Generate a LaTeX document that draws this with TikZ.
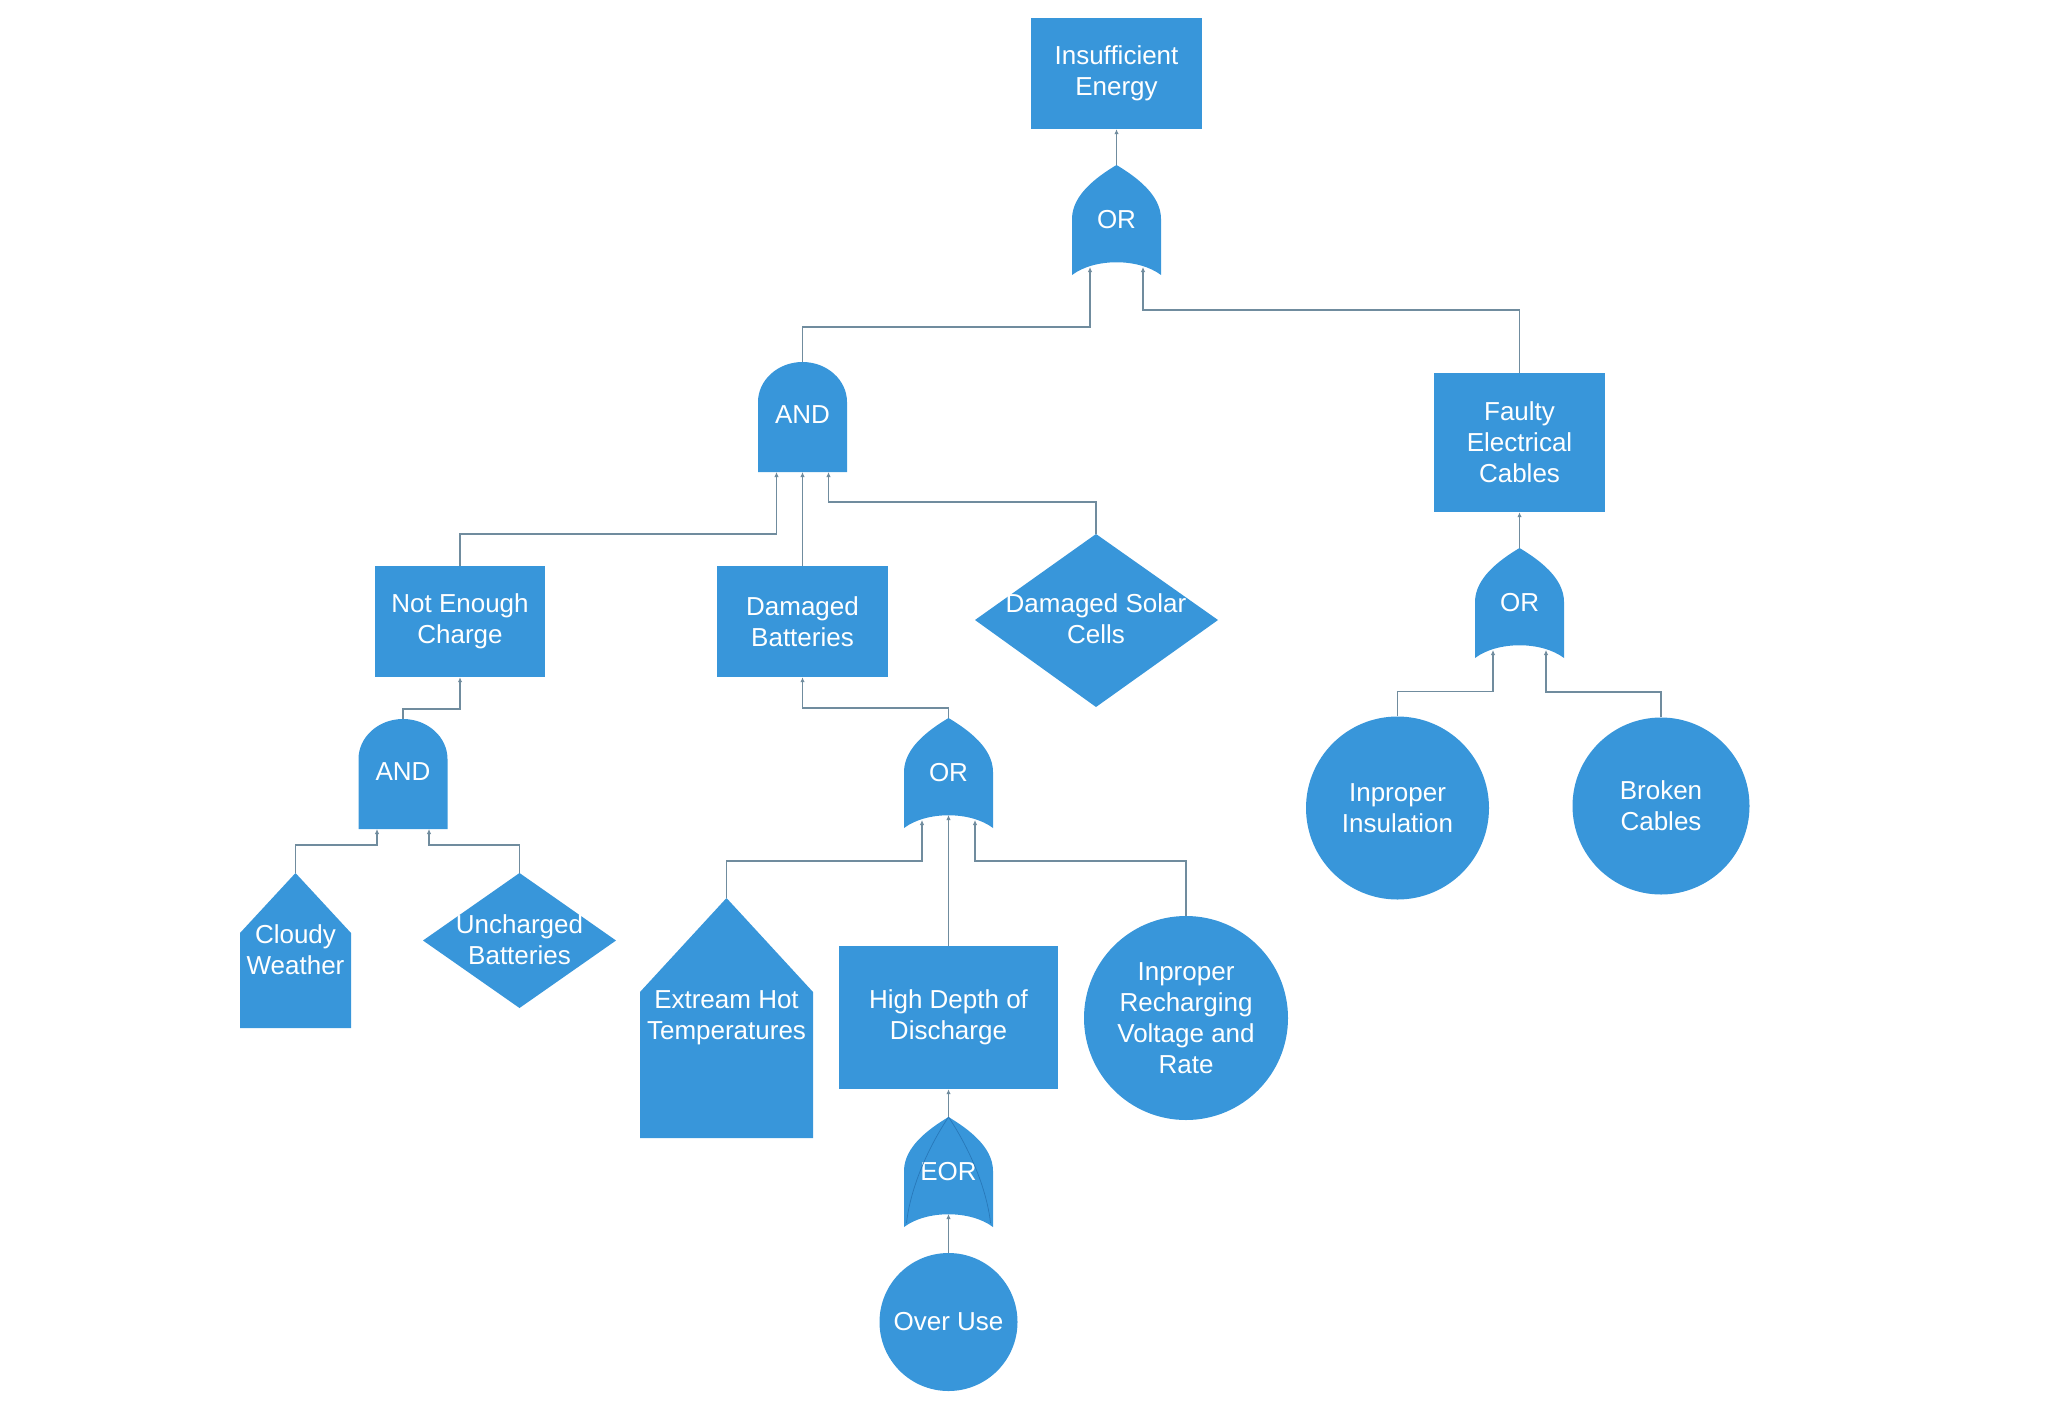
\documentclass[tikz,border=0pt]{standalone}
\usepackage{fontspec}
\setmainfont{Liberation Sans}
\usetikzlibrary{arrows.meta,calc}
\definecolor{boxblue}{RGB}{56,150,218}
\definecolor{linec}{RGB}{112,140,158}
\definecolor{eorc}{RGB}{40,120,185}
\tikzset{
  lbl/.style={text=white, font=\fontsize{26pt}{31pt}\selectfont, align=center, inner sep=0pt},
  boxnode/.style={lbl, fill=boxblue, rectangle, minimum width=#1, minimum height=111pt},
  circnode/.style={lbl, fill=boxblue, circle, minimum size=#1},
  gatefill/.style={fill=boxblue},
  conn/.style={draw=linec, line width=1.4pt, -{Latex[length=5pt,width=4.5pt]}},
}
\newcommand{\ftORgate}[4]{%
  \begin{scope}[shift={(#2,#3)}]
    \fill[gatefill] (-44.5,110) -- (-44.5,54) .. controls (-44.5,30) and (-20,12) .. (0,0)
      .. controls (20,12) and (44.5,30) .. (44.5,54) -- (44.5,110)
      .. controls (22,93) and (-22,93) .. cycle;
    \node[lbl] (#1) at (0,55) {#4};
    \coordinate (#1-out) at (0,0);
    \coordinate (#1-in1) at (-26.5,102);
    \coordinate (#1-in2) at (0,97);
    \coordinate (#1-in3) at (26.5,102);
  \end{scope}}
\newcommand{\ftANDgate}[3]{%
  \begin{scope}[shift={(#2,#3)}]
    \fill[gatefill] (-44.5,110) -- (-44.5,40) .. controls (-44.5,18) and (-24.6,0) .. (0,0)
      .. controls (24.6,0) and (44.5,18) .. (44.5,40) -- (44.5,110) -- cycle;
    \node[lbl] (#1) at (0,53) {AND};
    \coordinate (#1-out) at (0,0);
    \coordinate (#1-in1) at (-26,110);
    \coordinate (#1-in2) at (0,110);
    \coordinate (#1-in3) at (26,110);
  \end{scope}}
\begin{document}
\begin{tikzpicture}[x=1pt,y=-1pt]
\useasboundingbox (0,0) rectangle (2068,1400);

% boxes
\node[boxnode=171pt] (ie) at (1116.5,73.5) {Insufficient\\Energy};
\node[boxnode=171pt, minimum height=139pt] (fec) at (1519.5,442.5) {Faulty\\Electrical\\Cables};
\node[boxnode=170pt] (nec) at (460,621.5) {Not Enough\\Charge};
\node[boxnode=171pt] (db) at (802.5,621.5) {Damaged\\Batteries};
\node[boxnode=219pt, minimum height=143pt] (hdd) at (948.5,1017.5) {High Depth of\\Discharge};

% circles
\node[circnode=183pt] (ii) at (1397.5,808) {Inproper\\Insulation};
\node[circnode=177pt] (bc) at (1661,806) {Broken\\Cables};
\node[circnode=204pt] (irv) at (1186,1018) {Inproper\\Recharging\\Voltage and\\Rate};
\node[circnode=138pt] (ou) at (948.5,1322) {Over Use};

% diamonds
\fill[boxblue] (1096,534) -- (1218,620) -- (1096,707) -- (975,620) -- cycle;
\node[lbl] (dsc) at (1096,619) {Damaged Solar\\Cells};
\coordinate (dsc-top) at (1096,534);
\fill[boxblue] (519.5,873) -- (616,940.5) -- (519.5,1008) -- (423,940.5) -- cycle;
\node[lbl] (ub) at (519.5,940) {Uncharged\\Batteries};
\coordinate (ub-top) at (519.5,873);

% house shapes
\fill[boxblue] (295.5,873) -- (351,933) -- (351,1028) -- (240,1028) -- (240,933) -- cycle;
\node[lbl] (cw) at (295.5,950) {Cloudy\\Weather};
\coordinate (cw-top) at (295.5,873);
\fill[boxblue] (726.5,898) -- (813,992) -- (813,1138) -- (640,1138) -- (640,992) -- cycle;
\node[lbl] (eht) at (726.5,1018) {Extream Hot\\Temperatures};
\coordinate (eht-top) at (726.5,898);

% gates
\ftORgate{or1}{1116.5}{165}{OR}
\ftANDgate{and1}{802.5}{362}
\ftANDgate{and2}{403}{719}
\ftORgate{or2}{948.5}{718}{OR}
\ftORgate{or3}{1519.5}{548}{OR}
\ftORgate{eor}{948.5}{1117}{EOR}
\begin{scope}[shift={(948.5,1117)}]
  \draw[eorc, line width=0.7pt] (0,0) .. controls (-20,30) and (-38,70) .. (-42,106);
  \draw[eorc, line width=0.7pt] (0,0) .. controls (20,30) and (38,70) .. (42,106);
\end{scope}

% connectors
\draw[conn] (or1-out) -- (ie.south);
\draw[conn] (and1-out) -- ++(0,-35) -| (or1-in1);
\draw[conn] (fec.north) -- ++(0,-63) -| (or1-in3);
\draw[conn] (nec.north) -- ++(0,-32) -| (and1-in1);
\draw[conn] (db.north) -- (and1-in2);
\draw[conn] (dsc-top) -- ++(0,-32) -| (and1-in3);
\draw[conn] (or3-out) -- (fec.south);
\draw[conn] (ii.north) -- ++(0,-25) -| (or3-in1);
\draw[conn] (bc.north) -- ++(0,-25.5) -| (or3-in3);
\draw[conn] (and2-out) -- ++(0,-10) -| (nec.south);
\draw[conn] (cw-top) -- ++(0,-28) -| (and2-in1);
\draw[conn] (ub-top) -- ++(0,-28) -| (and2-in3);
\draw[conn] (or2-out) -- ++(0,-10) -| (db.south);
\draw[conn] (eht-top) -- ++(0,-37) -| (or2-in1);
\draw[conn] (hdd.north) -- (or2-in2);
\draw[conn] (irv.north) -- ++(0,-55) -| (or2-in3);
\draw[conn] (eor-out) -- (hdd.south);
\draw[conn] (ou.north) -- (eor-in2);
\end{tikzpicture}
\end{document}
